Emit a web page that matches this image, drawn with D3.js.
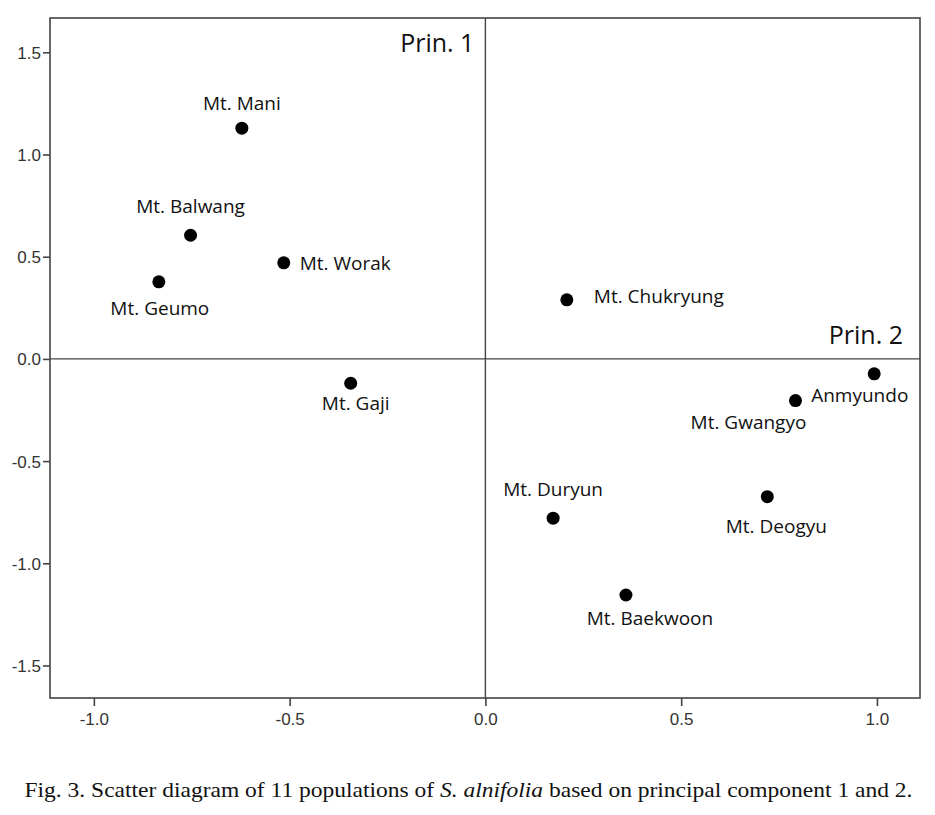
<!DOCTYPE html>
<html>
<head>
<meta charset="utf-8">
<script src="https://cdn.jsdelivr.net/npm/d3@7"></script>
<style>
  html, body { margin: 0; padding: 0; background: #fff; }
  svg { display: block; }
</style>
</head>
<body>
<div id="chart"></div>
<script>
// ---- data ----
const populations = ["Mt. Mani", "Mt. Balwang", "Mt. Worak", "Mt. Geumo", "Mt. Gaji",
  "Mt. Chukryung", "Anmyundo", "Mt. Gwangyo", "Mt. Deogyu", "Mt. Duryun", "Mt. Baekwoon"];
const prin1 = [-0.622, -0.753, -0.515, -0.834, -0.344, 0.208, 0.993, 0.792, 0.720, 0.173, 0.359];
const prin2 = [1.129, 0.605, 0.470, 0.377, -0.119, 0.289, -0.073, -0.204, -0.674, -0.779, -1.155];
const xTicks = [-1.0, -0.5, 0.0, 0.5, 1.0];
const yTicks = [1.5, 1.0, 0.5, 0.0, -0.5, -1.0, -1.5];

// ---- layout (label offsets from point, in px) ----
const labelLayout = {
  "Mt. Mani":      {dx: 0,   dy: -18, anchor: "middle"},
  "Mt. Balwang":   {dx: 0,   dy: -22, anchor: "middle"},
  "Mt. Worak":     {dx: 16,  dy: 7,   anchor: "start"},
  "Mt. Geumo":     {dx: 1,   dy: 33,  anchor: "middle"},
  "Mt. Gaji":      {dx: 5,   dy: 27,  anchor: "middle"},
  "Mt. Chukryung": {dx: 27,  dy: 3,   anchor: "start"},
  "Anmyundo":      {dx: -63, dy: 28,  anchor: "start"},
  "Mt. Gwangyo":   {dx: -47, dy: 28,  anchor: "middle"},
  "Mt. Deogyu":    {dx: 9,   dy: 36,  anchor: "middle"},
  "Mt. Duryun":    {dx: 0,   dy: -22, anchor: "middle"},
  "Mt. Baekwoon":  {dx: 24,  dy: 30,  anchor: "middle"}
};

const W = 935, H = 815;
const margin = {left: 50, top: 18, right: 15, bottom: 117};
const svg = d3.select("#chart").append("svg").attr("width", W).attr("height", H);

const x = d3.scaleLinear().domain([-1.112, 1.110]).range([margin.left, W - margin.right]);
const y = d3.scaleLinear().domain([1.668, -1.659]).range([margin.top, H - margin.bottom]);

const axisColor = "#444";
const tickFont = "'Liberation Sans', Arial, sans-serif";

// frame
svg.append("rect")
  .attr("x", x.range()[0]).attr("y", y.range()[0])
  .attr("width", x.range()[1] - x.range()[0])
  .attr("height", y.range()[1] - y.range()[0])
  .attr("fill", "none").attr("stroke", axisColor).attr("stroke-width", 1.6);

// zero lines
svg.append("line").attr("x1", x(0)).attr("x2", x(0)).attr("y1", y.range()[0]).attr("y2", y.range()[1])
  .attr("stroke", axisColor).attr("stroke-width", 1.4);
svg.append("line").attr("x1", x.range()[0]).attr("x2", x.range()[1]).attr("y1", y(0)).attr("y2", y(0))
  .attr("stroke", axisColor).attr("stroke-width", 1.4);

// axes
const fmt = d => d.toFixed(1);
const yAxis = d3.axisLeft(y).tickValues(yTicks).tickFormat(fmt).tickSize(7).tickSizeOuter(0);
const gy = svg.append("g").attr("transform", `translate(${x.range()[0]},0)`).call(yAxis);
const xAxis = d3.axisBottom(x).tickValues(xTicks).tickFormat(fmt).tickSize(8).tickSizeOuter(0);
const gx = svg.append("g").attr("transform", `translate(0,${y.range()[1]})`).call(xAxis);
[gx, gy].forEach(g => {
  g.select(".domain").remove();
  g.selectAll(".tick line").attr("stroke", axisColor).attr("stroke-width", 1.6);
  g.selectAll(".tick text").attr("fill", "#333").style("font-family", tickFont).style("font-size", "17px");
});
gy.selectAll(".tick text").attr("x", -9).attr("dy", "0.35em");
gx.selectAll(".tick text").attr("y", 15).attr("dy", "0.71em");

// axis name labels
const labFont = "'Open Sans', 'Noto Sans', sans-serif";
svg.append("text").attr("x", x(0) - 11).attr("y", 52).attr("text-anchor", "end")
  .style("font-family", labFont).style("font-size", "25px").attr("fill", "#111").text("Prin. 1");
svg.append("text").attr("x", x.range()[1] - 17).attr("y", 344).attr("text-anchor", "end")
  .style("font-family", labFont).style("font-size", "25px").attr("fill", "#111").text("Prin. 2");

// points
const data = populations.map((n, i) => ({name: n, px: prin1[i], py: prin2[i]}));
svg.append("g").selectAll("circle").data(data).join("circle")
  .attr("cx", d => x(d.px)).attr("cy", d => y(d.py)).attr("r", 6.5).attr("fill", "#000");

// labels
svg.append("g").selectAll("text").data(data).join("text")
  .attr("x", d => x(d.px) + labelLayout[d.name].dx)
  .attr("y", d => y(d.py) + labelLayout[d.name].dy)
  .attr("text-anchor", d => labelLayout[d.name].anchor)
  .style("font-family", labFont).style("font-size", "19px").attr("fill", "#111")
  .text(d => d.name);

// caption
const cap = svg.append("text").attr("x", W / 2 + 1).attr("y", 797).attr("text-anchor", "middle")
  .style("font-family", "'Liberation Serif', 'Times New Roman', serif").style("font-size", "21px")
  .attr("fill", "#111").attr("textLength", 888).attr("lengthAdjust", "spacingAndGlyphs");
cap.append("tspan").text("Fig. 3. Scatter diagram of 11 populations of ");
cap.append("tspan").style("font-style", "italic").text("S. alnifolia");
cap.append("tspan").text(" based on principal component 1 and 2.");
</script>
</body>
</html>
